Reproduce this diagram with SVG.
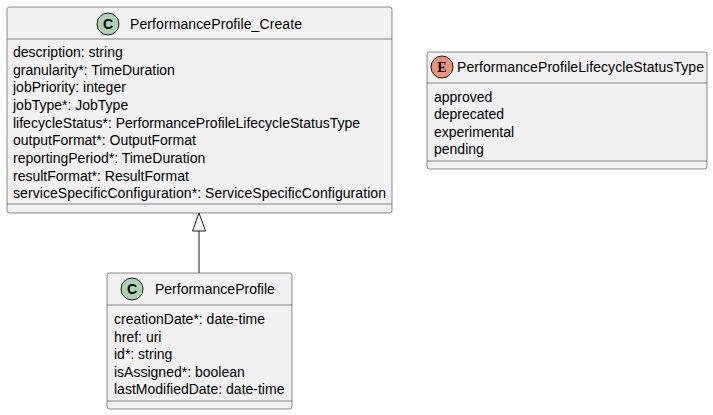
<svg xmlns="http://www.w3.org/2000/svg" width="713" height="415" viewBox="0 0 713 415">
<style>
.box{fill:#F1F1F1;stroke:#181818;stroke-width:0.5}
.sep{stroke:#181818;stroke-width:0.5}
.t{font-family:"Liberation Sans",Arial,sans-serif;font-size:14px;fill:#000}
.a{font-family:"Liberation Sans",Arial,sans-serif;font-size:14px;fill:#000}
.ci{stroke:#181818;stroke-width:1}
.cl{font-family:"Liberation Sans",Arial,sans-serif;font-size:14px;font-weight:bold;fill:#000}
.el{font-family:"Liberation Serif","Times New Roman",serif;font-size:14px;font-weight:bold;fill:#000}
</style>
<rect width="713" height="415" fill="#FFFFFF"/>
<g id="PerformanceProfile_Create">
<rect class="box" x="7" y="7" width="385" height="206" rx="2.5"/>
<circle class="ci" cx="108" cy="24" r="11" fill="#ADD1B2"/>
<text class="cl" x="108" y="29" text-anchor="middle">C</text>
<text class="t" x="130" y="29" textLength="172">PerformanceProfile_Create</text>
<line class="sep" x1="7" y1="39" x2="392" y2="39"/>
<text class="a" x="13" y="57">description: string</text>
<text class="a" x="13" y="75">granularity*: TimeDuration</text>
<text class="a" x="13" y="92">jobPriority: integer</text>
<text class="a" x="13" y="110">jobType*: JobType</text>
<text class="a" x="13" y="128">lifecycleStatus*: PerformanceProfileLifecycleStatusType</text>
<text class="a" x="13" y="145">outputFormat*: OutputFormat</text>
<text class="a" x="13" y="163">reportingPeriod*: TimeDuration</text>
<text class="a" x="13" y="181">resultFormat*: ResultFormat</text>
<text class="a" x="13" y="198" textLength="373">serviceSpecificConfiguration*: ServiceSpecificConfiguration</text>
<line class="sep" x1="7" y1="204" x2="392" y2="204"/>
</g>
<g id="PerformanceProfileLifecycleStatusType">
<rect class="box" x="427" y="52" width="280" height="117" rx="2.5"/>
<circle class="ci" cx="442" cy="67" r="11" fill="#EB937F"/>
<text class="el" x="442" y="72" text-anchor="middle">E</text>
<text class="t" x="457" y="72" textLength="247">PerformanceProfileLifecycleStatusType</text>
<line class="sep" x1="427" y1="83" x2="707" y2="83"/>
<text class="a" x="434" y="102">approved</text>
<text class="a" x="434" y="119">deprecated</text>
<text class="a" x="434" y="137">experimental</text>
<text class="a" x="434" y="154">pending</text>
<line class="sep" x1="427" y1="161" x2="707" y2="161"/>
</g>
<g id="PerformanceProfile">
<rect class="box" x="107" y="273" width="185" height="136" rx="2.5"/>
<circle class="ci" cx="132" cy="289" r="11" fill="#ADD1B2"/>
<text class="cl" x="132" y="294" text-anchor="middle">C</text>
<text class="t" x="155" y="294">PerformanceProfile</text>
<line class="sep" x1="107" y1="305" x2="292" y2="305"/>
<text class="a" x="114" y="324">creationDate*: date-time</text>
<text class="a" x="114" y="342">href: uri</text>
<text class="a" x="114" y="359">id*: string</text>
<text class="a" x="114" y="377">isAssigned*: boolean</text>
<text class="a" x="114" y="394">lastModifiedDate: date-time</text>
<line class="sep" x1="107" y1="401" x2="292" y2="401"/>
</g>
<g id="connectors">
<line x1="199" y1="273" x2="199" y2="231" stroke="#181818" stroke-width="1"/>
<polygon points="199,213 192.5,231 205.5,231" fill="none" stroke="#181818" stroke-width="1"/>
</g>
</svg>
